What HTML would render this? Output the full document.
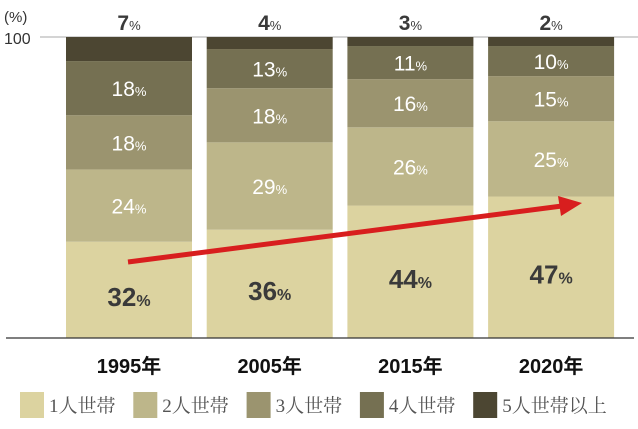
<!DOCTYPE html>
<html><head><meta charset="utf-8"><style>
body{margin:0;background:#fff;width:638px;height:424px;overflow:hidden}
text{font-family:"Liberation Sans","Noto Sans CJK JP",sans-serif}
.lg{font-family:"Liberation Serif","Noto Serif CJK SC",serif;fill:#555;font-size:19px}
</style></head><body>
<svg id="c" width="638" height="424">
<line x1="40" y1="37" x2="638" y2="37" stroke="#aaa" stroke-width="1"/>
<text x="4" y="22" font-size="15" fill="#333">(%)</text>
<text x="4" y="44" font-size="16" fill="#333">100</text>
<g id="bars"></g>
<line x1="6" y1="338" x2="634" y2="338" stroke="#333" stroke-width="1.2"/>
<g id="legend"></g>
<line x1="128" y1="262" x2="562" y2="206" stroke="#d81e1e" stroke-width="5"/>
<polygon points="582,203 558,196 561,216" fill="#d81e1e"/>
</svg>
<script>
const years=["1995年","2005年","2015年","2020年"];
const seriesNames=["1人世帯","2人世帯","3人世帯","4人世帯","5人世帯以上"];
const s1=[32,36,44,47];
const s2=[24,29,26,25];
const s3=[18,18,16,15];
const s4=[18,13,11,10];
const s5=[7,4,3,2];
const colors=["#dcd3a0","#bdb68a","#9b946f","#757052","#4c4632"];
const NS="http://www.w3.org/2000/svg";
const y0=338,yTop=37;
function y(v){return y0-(y0-yTop)*v/100;}
function x(i){return 66+i*140.7;}
const bw=126;
const g=document.getElementById('bars');
function mk(t,a,p){const e=document.createElementNS(NS,t);for(const k in a)e.setAttribute(k,a[k]);(p||g).appendChild(e);return e;}
const all=[s1,s2,s3,s4,s5];
years.forEach((yr,i)=>{
  let cum=0;
  all.forEach((s,k)=>{
    const v=s[i];const top=(k===4)?100:cum+v;
    const r=mk('rect',{x:x(i),y:y(top),width:bw,height:y(cum)-y(top),fill:colors[k]});
    
    
    if(k<4){
      const t=mk('text',{x:x(i)+bw/2,y:(y(cum)+y(top))/2+(k===0?16:8),'text-anchor':'middle','font-size':k===0?26:21,'font-weight':k===0?'bold':'normal',fill:k===0?'#3a3a3a':'#fff'});
      
      
      t.innerHTML=v+'<tspan font-size="'+(k===0?16:13)+'">%</tspan>';
    }else{
      const t=mk('text',{x:x(i)+bw/2,y:30,'text-anchor':'middle','font-size':21,'font-weight':'bold',fill:'#3a3a3a'});
      
      
      t.innerHTML=v+'<tspan font-size="13" font-weight="normal">%</tspan>';
    }
    cum+=v;
  });
  const l=mk('text',{x:x(i)+bw/2,y:373,'text-anchor':'middle','font-size':20,'font-weight':'bold',fill:'#111'});
  
  
  l.textContent=yr;
});
const lg=document.getElementById('legend');
seriesNames.forEach((n,k)=>{
  const lx=20+k*113.3;
  const r=mk('rect',{x:lx,y:392,width:24,height:26,fill:colors[k]},lg);
  
  
  const t=mk('text',{x:lx+29,y:412,class:'lg'},lg);
  
  
  t.textContent=n;
});
</script>
</body></html>
